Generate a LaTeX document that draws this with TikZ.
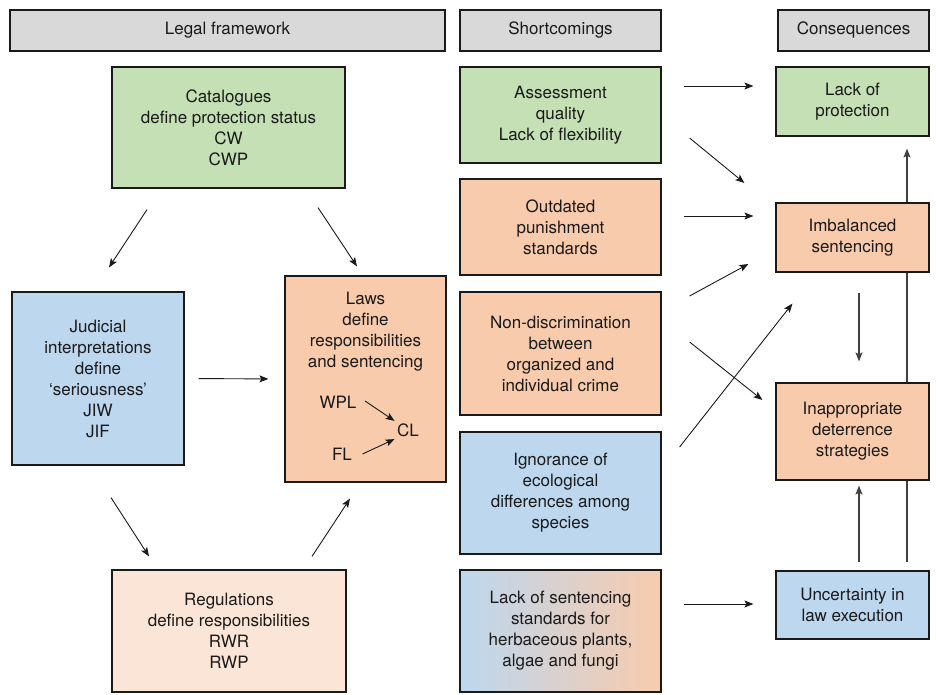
\documentclass[tikz,border=0pt]{standalone}
\usepackage{fontspec}
\setmainfont{TeX Gyre Heros}
\usetikzlibrary{arrows.meta, backgrounds}

\definecolor{boxgreen}{HTML}{C5E0B4}
\definecolor{boxblue}{HTML}{BDD7EE}
\definecolor{boxorange}{HTML}{F8CBAD}
\definecolor{boxpeach}{HTML}{FBE5D6}
\definecolor{boxgray}{HTML}{D9D9D9}
\definecolor{darkline}{HTML}{404040}
\definecolor{inktext}{HTML}{1A1A1A}

\begin{document}
\begin{tikzpicture}[x = 1pt, y = -1pt,
		box/.style = {draw = inktext, line width = 1.2pt, inner sep = 0pt, align = center,
			text = inktext, font = \fontsize{17}{21}\selectfont},
		head/.style = {box, fill = boxgray, minimum height = 41pt},
		arr/.style = {-{Stealth[length = 9pt, width = 7pt, inset = 2pt]}, line width = 0.9pt, draw = inktext},
		varr/.style = {arr, draw = darkline, line width = 1.3pt},
	]
			\def\sw{201pt};
			\def\cw{153pt};

			\useasboundingbox (0,0) rectangle (936,695);

			% column heads
			\node[head, minimum width = 435pt] (hlegal) at (227.5,30.5) {Legal framework};
			\node[head, minimum width = \sw] (hshort) at (560.5,30.5) {Shortcomings};
			\node[head, minimum width = 151pt] (hcons) at (853.5,30.5) {Consequences};

			% legal framework
			\node[box, fill = boxgreen, minimum width = 233pt, minimum height = 121pt] (catal) at (228.5,127.5)
				{Catalogues\\define protection status\\CW\\CWP};
			\node[box, fill = boxblue, minimum width = 172pt, minimum height = 173pt] (judic) at (98,378.5)
				{Judicial\\interpretations\\define\\‘seriousness’\\JIW\\JIF};
			\node[box, fill = boxorange, minimum width = 161pt, minimum height = 206pt] (laws) at (365.5,379) {};
			\node[box, draw = none, anchor = north] (lawstxt) at ([yshift = -16pt]laws.north)
				{Laws\\define\\responsibilities\\and sentencing};
			\node[box, draw = none] (wpl) at (338,402) {WPL};
			\node[box, draw = none] (fl) at (342,454) {FL};
			\node[box, draw = none] (cl) at (408,430) {CL};
			\node[box, fill = boxpeach, minimum width = 234pt, minimum height = 122pt] (regul) at (229,631)
				{Regulations\\define responsibilities\\RWR\\RWP};

			% shortcomings
			\node[box, fill = boxgreen, minimum width = \sw, minimum height = 96pt] (assess) at (560.5,115)
				{Assessment\\quality\\Lack of flexibility};
			\node[box, fill = boxorange, minimum width = \sw, minimum height = 96pt] (outdat) at (560.5,227)
				{Outdated\\punishment\\standards};
			\node[box, fill = boxorange, minimum width = \sw, minimum height = 123pt] (nondis) at (560.5,353.5)
				{Non-discrimination\\between\\organized and\\individual crime};
			\node[box, fill = boxblue, minimum width = \sw, minimum height = 122pt] (ignor) at (560.5,493)
				{Ignorance of\\ecological\\differences among\\species};
			\node[box, left color = boxblue, right color = boxorange, minimum width = \sw, minimum height = 122pt] (lacksent) at (560.5,631)
				{Lack of sentencing\\standards for\\herbaceous plants,\\algae and fungi};

			% consequences
			\node[box, fill = boxgreen, minimum width = \cw, minimum height = 69pt] (lackprot) at (852.5,101.5)
				{Lack of\\protection};
			\node[box, fill = boxorange, minimum width = \cw, minimum height = 69pt] (imbal) at (852.5,237.5)
				{Imbalanced\\sentencing};
			\node[box, fill = boxorange, minimum width = \cw, minimum height = 97pt] (inappr) at (852.5,431.5)
				{Inappropriate\\deterrence\\strategies};
			\node[box, fill = boxblue, minimum width = \cw, minimum height = 68pt] (uncert) at (852.5,605)
				{Uncertainty in\\law execution};

			% long arrow passes behind the consequence boxes
			\begin{scope}[on background layer]
				\draw[varr] ([xshift = 54.5pt, yshift = 8pt]uncert.north) -- ([xshift = 54.5pt, yshift = -12pt]lackprot.south);
			\end{scope}

			\begin{scope}[arr]
				\draw ([xshift = -81.5pt, yshift = -21pt]catal.south) -- ([xshift = 11pt, yshift = 24pt]judic.north);
				\draw ([xshift = 89.5pt, yshift = -19pt]catal.south) -- ([xshift = -8.5pt, yshift = 9pt]laws.north);
				\draw[shorten <= 14pt, shorten >= 16pt] (judic.east) -- (laws.west);
				\draw ([xshift = 13pt, yshift = -32pt]judic.south) -- ([xshift = -80pt, yshift = 13pt]regul.north);
				\draw ([xshift = 83pt, yshift = 13pt]regul.north) -- ([xshift = -15.5pt, yshift = -16pt]laws.south);
				\draw ([xshift = 8pt, yshift = 1pt]wpl.east) -- ([xshift = -2pt, yshift = 2pt]cl.north west);
				\draw ([xshift = 10pt]fl.east) -- ([xshift = -2pt, yshift = -2pt]cl.south west);

				\draw[shorten <= 22pt, shorten >= 22pt] ([yshift = 29pt]assess.east) -- ([yshift = 15.5pt]lackprot.west);
				\draw ([xshift = 28pt, yshift = -23pt]assess.east) -- ([xshift = -31pt, yshift = 54.5pt]imbal.west);
				\draw[shorten <= 22pt, shorten >= 22pt] ([yshift = 11pt]outdat.east) -- ([yshift = 21.5pt]imbal.west);
				\draw ([xshift = 28pt, yshift = 57.5pt]nondis.east) -- ([xshift = -27pt, yshift = -26.5pt]imbal.west);
				\draw ([xshift = 28pt, yshift = 11.5pt]nondis.east) -- ([xshift = -13pt, yshift = 31.5pt]inappr.west);
				\draw ([xshift = 18pt, yshift = 46pt]ignor.east) -- ([xshift = 17pt, yshift = -31pt]imbal.south west);
				\draw[shorten <= 22pt, shorten >= 22pt] ([yshift = 27pt]lacksent.east) -- ([yshift = 1pt]uncert.west);
			\end{scope}

			\begin{scope}[varr]
				\draw ([xshift = 6.5pt, yshift = -20pt]imbal.south) -- ([xshift = 6.5pt, yshift = 21pt]inappr.north);
				\draw ([xshift = 6.5pt, yshift = 8pt]uncert.north) -- ([xshift = 6.5pt, yshift = -5pt]inappr.south);
			\end{scope}
		\end{tikzpicture}
\end{document}
